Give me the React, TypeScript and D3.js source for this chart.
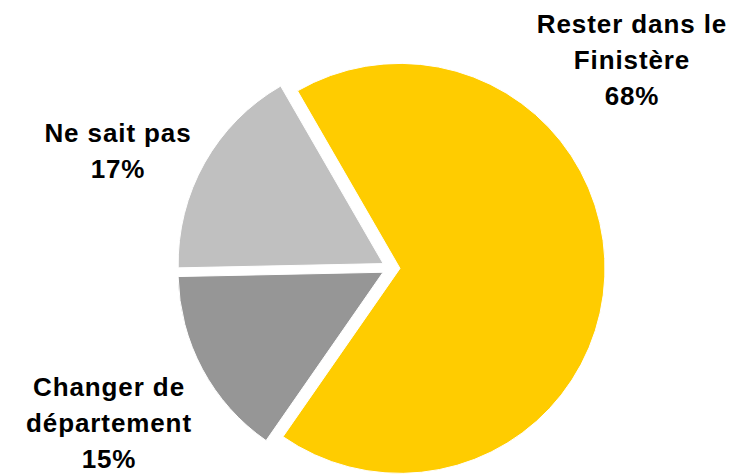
import React from "react";
import * as d3 from "d3";

const categories = ["Rester dans le Finistère", "Changer de département", "Ne sait pas"];
const values = [68, 15, 17];
const labelLines = [
  ["Rester dans le", "Finistère"],
  ["Changer de", "département"],
  ["Ne sait pas"],
];
const colors = ["#FFCC00", "#969696", "#C0C0C0"];

const W = 745;
const H = 475;
const cx = 391;
const cy = 268;
const R = 205;
const explode = 9;
const labelPos = [
  { x: 632, y: 33 },
  { x: 109, y: 396 },
  { x: 118, y: 142 },
];
const lineH = 36;

export default function App() {
  const start = (-30 * Math.PI) / 180;
  const pie = d3
    .pie<number>()
    .sort(null)
    .value((d) => d)
    .startAngle(start)
    .endAngle(start + 2 * Math.PI);
  const arcs = pie(values);
  const arc = d3.arc<d3.PieArcDatum<number>>().innerRadius(0).outerRadius(R);

  return (
    <svg
      width={W}
      height={H}
      style={{ position: "absolute", left: 0, top: 0, display: "block", background: "#fff" }}
    >
      <g transform={`translate(${cx},${cy})`}>
        {arcs.map((a, i) => {
          const mid = (a.startAngle + a.endAngle) / 2;
          const dx = Math.sin(mid) * explode;
          const dy = -Math.cos(mid) * explode;
          return (
            <path
              key={categories[i]}
              d={arc(a) || ""}
              transform={`translate(${dx},${dy})`}
              fill={colors[i]}
              stroke="#fff"
              strokeWidth={1}
            />
          );
        })}
      </g>
      {labelLines.map((lines, i) => {
        const all = [...lines, `${values[i]}%`];
        return (
          <text
            key={categories[i]}
            textAnchor="middle"
            fontFamily="'Liberation Sans', Arial, sans-serif"
            fontWeight="bold"
            fontSize={26}
            letterSpacing={0.9}
            fill="#000"
          >
            {all.map((t, j) => (
              <tspan key={j} x={labelPos[i].x} y={labelPos[i].y + j * lineH}>
                {t}
              </tspan>
            ))}
          </text>
        );
      })}
    </svg>
  );
}
